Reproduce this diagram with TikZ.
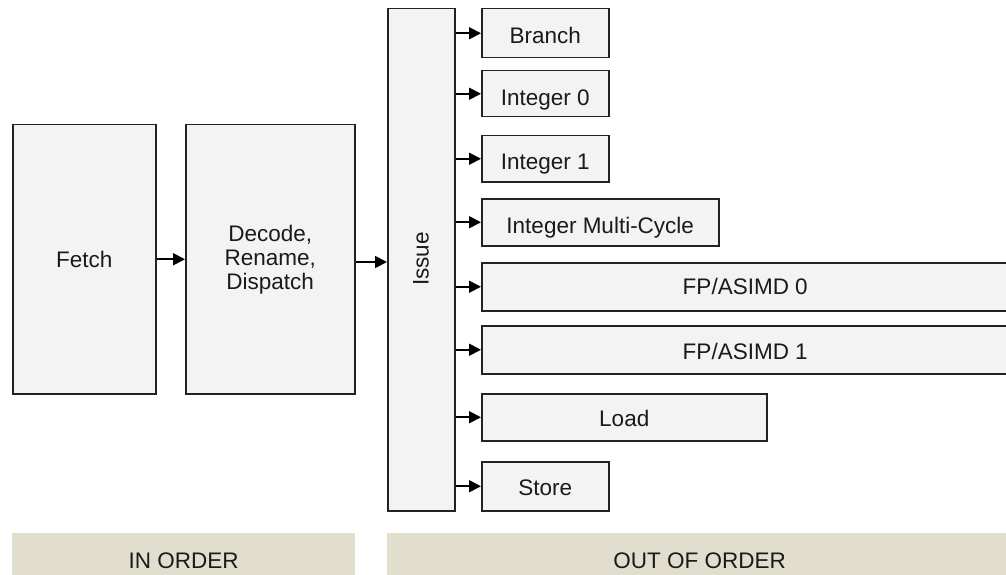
\documentclass[tikz,border=0pt]{standalone}
\usepackage{fontspec}
\setmainfont{Liberation Sans}
\usetikzlibrary{arrows.meta}
\definecolor{boxfill}{HTML}{F3F3F3}
\definecolor{boxline}{HTML}{222222}
\definecolor{barfill}{HTML}{E1DECE}
\definecolor{txt}{HTML}{1A1A1A}
\tikzset{
  unit/.style={draw=boxline, fill=boxfill, line width=1.5pt, anchor=north west, inner sep=0pt,
    text=txt, font=\fontsize{22.5}{24}\selectfont, align=center, text height=16pt, text depth=0pt},
  bar/.style={fill=barfill, anchor=north west, inner sep=0pt, text=txt, font=\fontsize{22.5}{25}\selectfont,
    text height=25pt, text depth=0pt},
  conn/.style={line width=1.8pt, draw=black, -{Triangle[length=12pt,width=12pt]}}
}
\begin{document}
\begin{tikzpicture}[x=1pt,y=-1pt]
\useasboundingbox (0,0) rectangle (1006,575);
\node[unit, minimum width=143pt, minimum height=269pt] (fetch) at (12,124) {Fetch};
\node[unit, minimum width=169pt, minimum height=269pt, text height=, text depth=, yshift=0pt] (dec) at (185,124) {\raisebox{-4pt}{\parbox{150pt}{\centering Decode,\\Rename,\\Dispatch}}};
\node[unit, minimum width=67pt, minimum height=502pt] (issue) at (387,8) {};
\node[text=txt, font=\fontsize{22.5}{24}\selectfont, rotate=90] (issuetxt) at (421,259) {Issue};
\node[unit, minimum width=127pt, minimum height=49pt, text height=21pt] (br) at (481,8) {Branch};
\node[unit, minimum width=127pt, minimum height=46pt, text height=24pt] (i0) at (481,70) {Integer 0};
\node[unit, minimum width=127pt, minimum height=46pt, text height=22pt] (i1) at (481,135) {Integer 1};
\node[unit, minimum width=237pt, minimum height=47pt, text height=23pt] (imc) at (481,198) {Integer Multi-Cycle};
\node[unit, minimum width=527pt, minimum height=48pt] (fp0) at (481,262) {FP/ASIMD 0};
\node[unit, minimum width=527pt, minimum height=48pt, text height=20pt] (fp1) at (481,325) {FP/ASIMD 1};
\node[unit, minimum width=285pt, minimum height=47pt, text height=19pt] (ld) at (481,393) {Load};
\node[unit, minimum width=127pt, minimum height=49pt, text height=19pt] (st) at (481,461) {Store};
\node[bar, minimum width=343pt, minimum height=45pt] (inorder) at (12,533) {IN ORDER};
\node[bar, minimum width=625pt, minimum height=45pt] (ooo) at (387,533) {OUT OF ORDER};
\draw[conn] (fetch.east) -- (dec.west);
\draw[conn] (dec.east |- 0,262) -- (issue.west |- 0,262);
\foreach \n in {br,i0,i1,imc,fp0,fp1,ld,st}{
  \draw[conn] (issue.east |- \n.west) -- (\n.west);
}
\end{tikzpicture}
\end{document}
